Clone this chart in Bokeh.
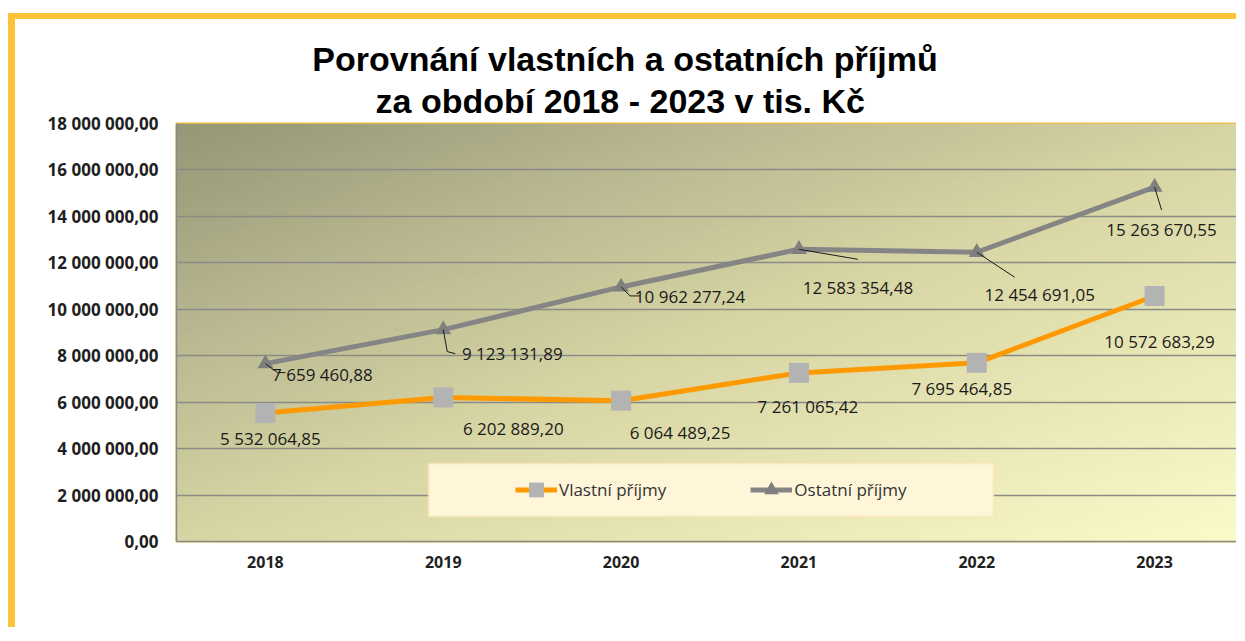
import numpy as np
from bokeh.plotting import figure
from bokeh.models import (Range1d, FixedTicker, Title, Legend, LegendItem,
                          BoxAnnotation)
from bokeh.core.properties import value
from bokeh.embed import file_html
from bokeh.resources import INLINE

# ---------------- data ----------------
years = ["2018", "2019", "2020", "2021", "2022", "2023"]
vlastni = [5532064.85, 6202889.20, 6064489.25, 7261065.42, 7695464.85, 10572683.29]
ostatni = [7659460.88, 9123131.89, 10962277.24, 12583354.48, 12454691.05, 15263670.55]
series_names = ["Vlastní příjmy", "Ostatní příjmy"]
y_ticks = [0, 2000000, 4000000, 6000000, 8000000, 10000000, 12000000, 14000000, 16000000, 18000000]
y_tick_labels = ["0,00", "2 000 000,00", "4 000 000,00", "6 000 000,00", "8 000 000,00",
                 "10 000 000,00", "12 000 000,00", "14 000 000,00", "16 000 000,00", "18 000 000,00"]
title_lines = ["Porovnání vlastních a ostatních příjmů", "za období 2018 - 2023 v tis. Kč"]


def cz(v):
    return f"{v:,.2f}".replace(",", " ").replace(".", ",")


# ---------------- layout / style ----------------
W, H = 1228, 614
ML, MT, MB, MR = 161, 104, 92, 0
FW, FH = W - ML - MR, H - MT - MB
YMAX = 18000000
px_cat = FW / len(years)
px_val = FH / YMAX

# label offsets in px (dx right, dy down) from the data point
v_off = [(5, 25), (70, 31), (59, 32), (9, 34), (-15, 26), (5, 46)]
o_off = [(57, 11), (69, 24), (69, 10), (59, 38), (63, 42), (7, 42)]
o_leader = [[(0, 0), (12, 9), (20, 9)], [(0, 0), (4, 22), (12, 24)], [(0, 0), (9, 9), (19, 9)],
            [(0, 0), (59, 10)], [(0, 0), (38, 25)], [(0, 0), (7, 23)]]

p = figure(width=W, height=H,
           x_range=Range1d(-0.5, len(years) - 0.5), y_range=Range1d(0, YMAX),
           output_backend="svg", toolbar_location=None,
           min_border_left=ML, min_border_top=MT, min_border_bottom=MB, min_border_right=MR,
           border_fill_color="white",
           styles={"border-left": "7px solid #fcc23a", "border-top": "6px solid #fcc23a",
                   "position": "relative", "top": "13px", "left": "8px"})
p.outline_line_color = "#efbe3e"
p.outline_line_width = 2

# gradient background for the plot area
ny, nx = 60, 120
xf = np.linspace(0, 1, nx)[None, :]
yf_top = np.linspace(1, 0, ny)[:, None]  # row 0 = bottom of plot
t = (xf + yf_top) / 2.0
stops = [0, 0.25, 0.5, 1.0]
cols = [(152, 151, 118), (184, 183, 145), (214, 213, 163), (252, 250, 200)]
r = np.interp(t, stops, [c[0] for c in cols]).astype(np.uint32)
g = np.interp(t, stops, [c[1] for c in cols]).astype(np.uint32)
b = np.interp(t, stops, [c[2] for c in cols]).astype(np.uint32)
img = (255 << 24) | (b << 16) | (g << 8) | r
p.image_rgba(image=[img.astype(np.uint32)], x=-0.5, y=0, dw=len(years), dh=YMAX, level="image")

xs = list(range(len(years)))

# lines and markers
lv = p.line(xs, vlastni, line_color="#ff9900", line_width=5)
sv = p.scatter(xs, vlastni, marker="square", size=20, fill_color="#b3b3b3", line_color=None)
lo = p.line(xs, ostatni, line_color="#858585", line_width=5)
so = p.scatter(xs, ostatni, marker="triangle", size=16, fill_color="#7f7f7f", line_color=None)

# leader lines
lx, ly = [], []
for i, pts in enumerate(o_leader):
    lx.append([i + dx / px_cat for dx, dy in pts])
    ly.append([ostatni[i] - dy / px_val for dx, dy in pts])
p.multi_line(lx, ly, line_color="#1a1a1a", line_width=1)

# data labels
for vals, offs in ((vlastni, v_off), (ostatni, o_off)):
    p.text(xs, vals, text=[cz(v) for v in vals],
           x_offset=[o[0] for o in offs], y_offset=[o[1] for o in offs],
           text_align="center", text_baseline="middle",
           text_font=value("Open Sans"), text_font_size="17px", text_color="#1a1a1a")

# axes
p.xgrid.visible = False
p.ygrid.ticker = FixedTicker(ticks=y_ticks)
p.ygrid.grid_line_color = "#8a8a86"
p.ygrid.grid_line_width = 1.5

p.yaxis.ticker = FixedTicker(ticks=y_ticks)
p.yaxis.major_label_overrides = {t_: l_ for t_, l_ in zip(y_ticks, y_tick_labels)}
p.xaxis.ticker = FixedTicker(ticks=xs)
p.xaxis.major_label_overrides = {i: y for i, y in enumerate(years)}
for ax in (p.xaxis, p.yaxis):
    ax.major_tick_in = 0
    ax.major_tick_out = 0
    ax.minor_tick_line_color = None
    ax.axis_line_color = "#8a8a86"
    ax.axis_line_width = 1.5
    ax.major_label_text_font = "Open Sans"
    ax.major_label_text_font_style = "bold"
    ax.major_label_text_color = "#1f1f1f"
p.yaxis.major_label_text_font_size = "17px"
p.yaxis.major_label_standoff = 18
p.xaxis.major_label_text_font_size = "16px"
p.xaxis.major_label_standoff = 14

# legend box
p.add_layout(BoxAnnotation(left=252, right=817, bottom=25, top=78,
                           left_units="screen", right_units="screen",
                           bottom_units="screen", top_units="screen",
                           fill_color="#fff6da", fill_alpha=1,
                           line_color="#fbe3a2", line_width=3))
legend = Legend(items=[LegendItem(label=series_names[0], renderers=[lv, sv]),
                       LegendItem(label=series_names[1], renderers=[lo, so])],
                location=(331, 25), orientation="horizontal",
                background_fill_alpha=0, border_line_alpha=0,
                padding=8, spacing=84, glyph_width=42, glyph_height=37, label_standoff=2,
                label_text_font="Open Sans", label_text_font_size="17px",
                label_text_color="#333333")
p.add_layout(legend)

# title (first added sits closest to the plot area); trailing no-break spaces
# move the centred text left so it is centred on the chart, not the plot area
pads = [18, 19]
for line, n, so_ in reversed(list(zip(title_lines, pads, [-3, 7]))):
    p.add_layout(Title(text=line + "\u00a0" * n, align="center", standoff=so_,
                       text_font="Liberation Sans", text_font_style="bold",
                       text_font_size="34px", text_color="#000000"), "above")

open("out.html", "w").write(file_html(p, INLINE))
